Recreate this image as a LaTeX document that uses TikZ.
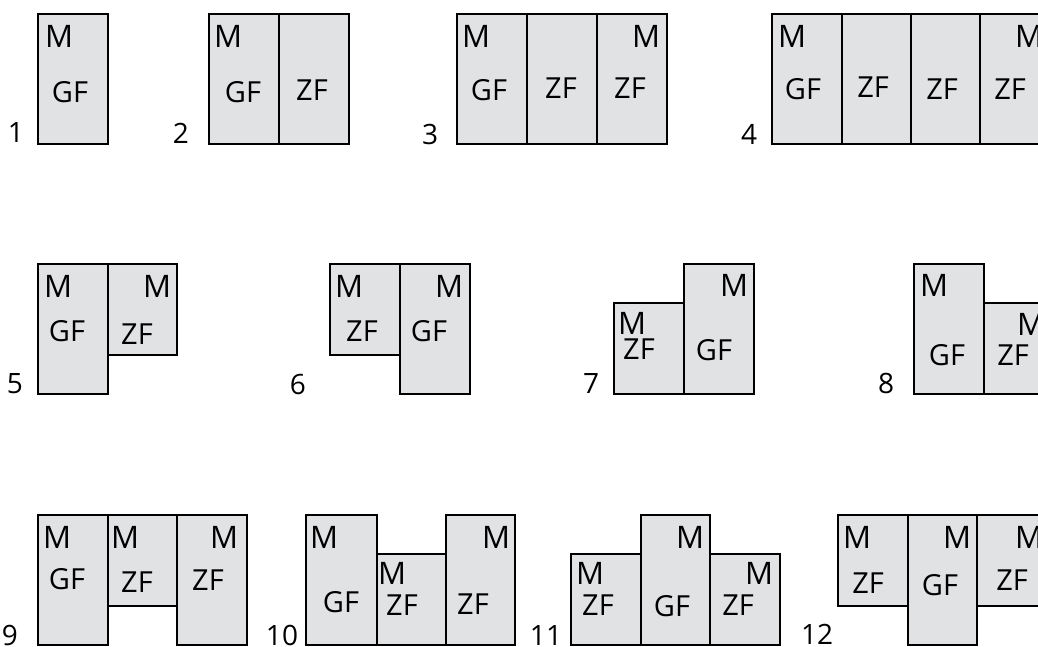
\documentclass[tikz,border=0pt]{standalone}
\usepackage{fontspec}
\usepackage{tikz}
\usepackage{xcolor}
\setmainfont{Open Sans}
\definecolor{FieldGray}{HTML}{E1E2E4}

\tikzset{
  fieldbox/.style={draw=black, fill=FieldGray, line width=2pt, line join=miter},
  fieldlabel/.style={inner sep=0pt, font=\fontsize{29}{31}\selectfont},
  mlabel/.style={inner sep=0pt, font=\fontsize{31}{33}\selectfont},
  numlabel/.style={inner sep=0pt, font=\fontsize{28}{30}\selectfont},
}

\begin{document}
\begin{tikzpicture}[x=1pt, y=-1pt]
\useasboundingbox (0,0) rectangle (1038,646);
\clip (0,0) rectangle (1038,646);
% ===== Row 1 =====
% --- Panel 1 ---
\begin{scope}[shift={(38,14)}]
\draw[fieldbox] (0,0) rectangle (70,130);
\node[mlabel] (p1m) at (21,22) {M};
\node[fieldlabel] (p1gf) at (32,78) {GF};
\node[numlabel] (p1n) at (-22,119) {1};
\end{scope}
% --- Panel 2 ---
\begin{scope}[shift={(209,14)}]
\draw[fieldbox] (0,0) rectangle (70,130);
\draw[fieldbox] (70,0) rectangle (140,130);
\node[mlabel] (p2m) at (19,22) {M};
\node[fieldlabel] (p2gf) at (34,78) {GF};
\node[fieldlabel] (p2zf) at (103,76) {ZF};
\node[numlabel] (p2n) at (-28,119) {2};
\end{scope}
% --- Panel 3 ---
\begin{scope}[shift={(457,14)}]
\draw[fieldbox] (0,0) rectangle (70,130);
\draw[fieldbox] (70,0) rectangle (140,130);
\draw[fieldbox] (140,0) rectangle (210,130);
\node[mlabel] (p3m) at (19,22) {M};
\node[mlabel] (p3mr) at (189,22) {M};
\node[fieldlabel] (p3gf) at (32,76) {GF};
\node[fieldlabel] (p3zfa) at (104,74) {ZF};
\node[fieldlabel] (p3zfb) at (173,74) {ZF};
\node[numlabel] (p3n) at (-27,120) {3};
\end{scope}
% --- Panel 4 ---
\begin{scope}[shift={(772,14)}]
\draw[fieldbox] (0,0) rectangle (70,130);
\draw[fieldbox] (70,0) rectangle (139,130);
\draw[fieldbox] (139,0) rectangle (208,130);
\draw[fieldbox] (208,0) rectangle (278,130);
\node[mlabel] (p4m) at (20,22) {M};
\node[mlabel] (p4mr) at (257,22) {M};
\node[fieldlabel] (p4gf) at (31,75) {GF};
\node[fieldlabel] (p4zfa) at (101,73) {ZF};
\node[fieldlabel] (p4zfb) at (170,75) {ZF};
\node[fieldlabel] (p4zfc) at (238,75) {ZF};
\node[numlabel] (p4n) at (-23,120) {4};
\end{scope}
% ===== Row 2 =====
% --- Panel 5 ---
\begin{scope}[shift={(38,264)}]
\draw[fieldbox] (0,0) rectangle (70,130);
\draw[fieldbox] (70,0) rectangle (139,91);
\node[mlabel] (p5m) at (20,22) {M};
\node[mlabel] (p5mr) at (119,22) {M};
\node[fieldlabel] (p5gf) at (29,67) {GF};
\node[fieldlabel] (p5zf) at (99,70) {ZF};
\node[numlabel] (p5n) at (-23,120) {5};
\end{scope}
% --- Panel 6 ---
\begin{scope}[shift={(330,264)}]
\draw[fieldbox] (0,0) rectangle (70,91);
\draw[fieldbox] (70,0) rectangle (140,130);
\node[mlabel] (p6m) at (19,22) {M};
\node[mlabel] (p6mr) at (119,22) {M};
\node[fieldlabel] (p6zf) at (32,67) {ZF};
\node[fieldlabel] (p6gf) at (99,67) {GF};
\node[numlabel] (p6n) at (-32,120) {6};
\end{scope}
% --- Panel 7 ---
\begin{scope}[shift={(614,264)}]
\draw[fieldbox] (0,39) rectangle (70,130);
\draw[fieldbox] (70,0) rectangle (140,130);
\node[mlabel] (p7m) at (18,59) {M};
\node[mlabel] (p7mr) at (120,21) {M};
\node[fieldlabel] (p7zf) at (25,85) {ZF};
\node[fieldlabel] (p7gf) at (100,86) {GF};
\node[numlabel] (p7n) at (-23,119) {7};
\end{scope}
% --- Panel 8 ---
\begin{scope}[shift={(914,264)}]
\draw[fieldbox] (0,0) rectangle (70,130);
\draw[fieldbox] (70,39) rectangle (140,130);
\node[mlabel] (p8m) at (20,21) {M};
\node[mlabel] (p8mr) at (117,60) {M};
\node[fieldlabel] (p8gf) at (33,91) {GF};
\node[fieldlabel] (p8zf) at (99,91) {ZF};
\node[numlabel] (p8n) at (-28,119) {8};
\end{scope}
% ===== Row 3 =====
% --- Panel 9 ---
\begin{scope}[shift={(38,515)}]
\draw[fieldbox] (0,0) rectangle (70,130);
\draw[fieldbox] (70,0) rectangle (139,91);
\draw[fieldbox] (139,0) rectangle (209,130);
\node[mlabel] (p9m) at (19,22) {M};
\node[mlabel] (p9mb) at (87,22) {M};
\node[mlabel] (p9mr) at (186,22) {M};
\node[fieldlabel] (p9gf) at (29,64) {GF};
\node[fieldlabel] (p9zfa) at (99,67) {ZF};
\node[fieldlabel] (p9zfb) at (170,65) {ZF};
\node[numlabel] (p9n) at (-28,120) {9};
\end{scope}
% --- Panel 10 ---
\begin{scope}[shift={(306,515)}]
\draw[fieldbox] (0,0) rectangle (71,130);
\draw[fieldbox] (71,39) rectangle (140,130);
\draw[fieldbox] (140,0) rectangle (209,130);
\node[mlabel] (p10m) at (18,22) {M};
\node[mlabel] (p10mb) at (86,58) {M};
\node[mlabel] (p10mr) at (190,22) {M};
\node[fieldlabel] (p10gf) at (35,87) {GF};
\node[fieldlabel] (p10zfa) at (96,90) {ZF};
\node[fieldlabel] (p10zfb) at (167,89) {ZF};
\node[numlabel] (p10n) at (-24,120) {10};
\end{scope}
% --- Panel 11 ---
\begin{scope}[shift={(571,515)}]
\draw[fieldbox] (0,39) rectangle (70,130);
\draw[fieldbox] (70,0) rectangle (139,130);
\draw[fieldbox] (139,39) rectangle (209,130);
\node[mlabel] (p11m) at (19,58) {M};
\node[mlabel] (p11mb) at (119,22) {M};
\node[mlabel] (p11mr) at (188,58) {M};
\node[fieldlabel] (p11zfa) at (27,90) {ZF};
\node[fieldlabel] (p11gf) at (101,91) {GF};
\node[fieldlabel] (p11zfb) at (167,90) {ZF};
\node[numlabel] (p11n) at (-25,120) {11};
\end{scope}
% --- Panel 12 ---
\begin{scope}[shift={(838,515)}]
\draw[fieldbox] (0,0) rectangle (70,91);
\draw[fieldbox] (70,0) rectangle (139,130);
\draw[fieldbox] (139,0) rectangle (209,91);
\node[mlabel] (p12m) at (19,22) {M};
\node[mlabel] (p12mb) at (119,22) {M};
\node[mlabel] (p12mr) at (191,22) {M};
\node[fieldlabel] (p12zfa) at (30,68) {ZF};
\node[fieldlabel] (p12gf) at (102,70) {GF};
\node[fieldlabel] (p12zfb) at (174,65) {ZF};
\node[numlabel] (p12n) at (-21,119) {12};
\end{scope}
\end{tikzpicture}
\end{document}
